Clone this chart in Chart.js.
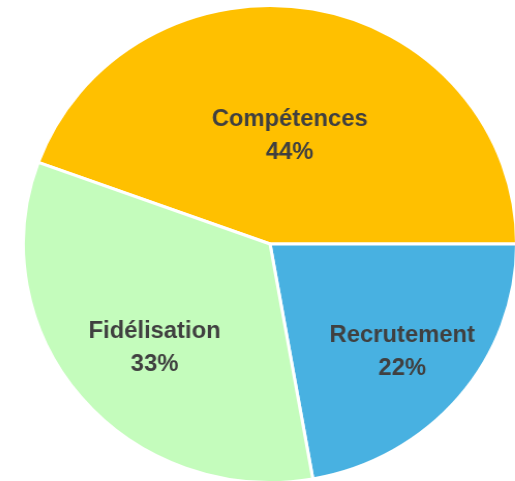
<!DOCTYPE html>
<html>
<head>
<meta charset="utf-8">
<script src="https://cdn.jsdelivr.net/npm/chart.js@4"></script>
<style>
  html, body { margin: 0; padding: 0; background: #fff; }
  body { width: 515px; height: 481px; position: relative; overflow: hidden; }
  #wrap {
    position: absolute; left: 29.5px; top: 3.5px; width: 480px; height: 480px;
    transform: scaleX(1.034); transform-origin: 50% 50%;
  }
</style>
</head>
<body>
<div id="wrap"><canvas id="myChart" width="480" height="480"></canvas></div>
<script>
/* global Chart */

const categories = ["Compétences", "Recrutement", "Fidélisation"];
const values = [44.4, 22.2, 33.3];
const colors = ["#FFC000", "#48B1E1", "#C4FCBC"];
// label placement: share of the radius, and a small turn in degrees
const labelRadius = [0.46, 0.70, 0.64];
const labelTurn = [0, 0, -3];

const sliceLabels = {
  id: 'sliceLabels',
  afterDatasetsDraw(chart) {
    const ctx = chart.ctx;
    const meta = chart.getDatasetMeta(0);
    const total = values.reduce((a, b) => a + b, 0);
    ctx.save();
    ctx.fillStyle = '#404040';
    ctx.font = 'bold 23px "Liberation Sans", Arial, sans-serif';
    ctx.textAlign = 'center';
    ctx.textBaseline = 'middle';
    meta.data.forEach((arc, i) => {
      const p = arc.getProps(['x', 'y', 'startAngle', 'endAngle', 'outerRadius'], true);
      const mid = (p.startAngle + p.endAngle) / 2 + labelTurn[i] * Math.PI / 180;
      const r = p.outerRadius * labelRadius[i];
      const x = p.x + Math.cos(mid) * r;
      const y = p.y + Math.sin(mid) * r;
      ctx.fillText(categories[i], x, y - 16);
      ctx.fillText(Math.round(values[i] / total * 100) + '%', x, y + 17);
    });
    ctx.restore();
  }
};

const ctx = document.getElementById('myChart');
const myChart = new Chart(ctx, {
  type: 'pie',
  data: {
    labels: categories,
    datasets: [{
      data: values,
      backgroundColor: colors,
      borderColor: '#ffffff',
      borderWidth: 3
    }]
  },
  options: {
    responsive: false,
    animation: false,
    rotation: -70,
    layout: { padding: 0 },
    plugins: {
      legend: { display: false },
      tooltip: { enabled: false }
    }
  },
  plugins: [sliceLabels]
});
</script>
</body>
</html>
